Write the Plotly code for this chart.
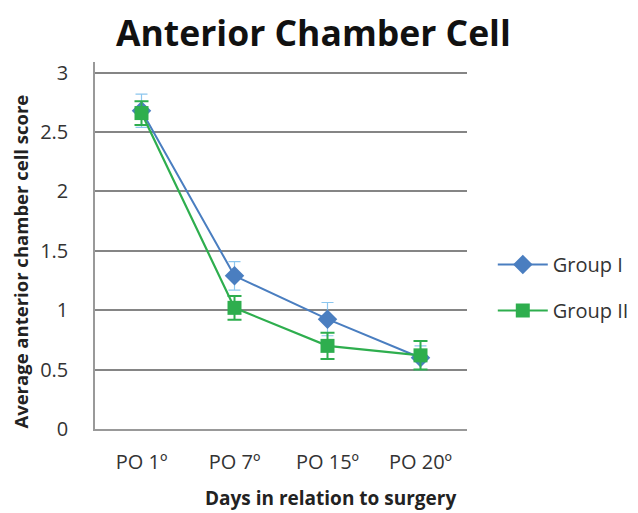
import plotly.graph_objects as go

categories = ["PO 1º", "PO 7º", "PO 15º", "PO 20º"]
group1 = [2.68, 1.29, 0.925, 0.60]
group1_err = [0.14, 0.12, 0.14, 0.10]
group2 = [2.66, 1.02, 0.70, 0.62]
group2_err = [0.10, 0.10, 0.11, 0.12]
y_ticks = [0, 0.5, 1, 1.5, 2, 2.5, 3]
y_tick_labels = ["0", "0.5", "1", "1.5", "2", "2.5", "3"]

FONT = "Open Sans"
BLUE = "#4A7EC0"
GREEN = "#2EAE4E"

# page offset (default body margin) compensation
OFF = 8
W, H = 638, 513
L, T = 95 - OFF, 62 - OFF
R = W - (470 - OFF)
B = H - (429 - OFF)
pw = W - L - R
ph = H - T - B

def px(xpage):
    return (xpage - OFF - L) / pw

def py(ypage):
    return (H - B - (ypage - OFF)) / ph

fig = go.Figure()
fig.add_trace(go.Scatter(
    x=categories, y=group1, name="Group I", mode="lines+markers",
    line=dict(color=BLUE, width=2),
    marker=dict(symbol="diamond", size=15, color=BLUE),
    error_y=dict(type="data", array=group1_err, color="#8CC6EE", thickness=1.2, width=6),
    legendgroup="g1",
))
fig.add_trace(go.Scatter(
    x=categories, y=group2, name="Group II", mode="lines+markers",
    line=dict(color=GREEN, width=2.2),
    marker=dict(symbol="square", size=14, color=GREEN),
    error_y=dict(type="data", array=group2_err, color=GREEN, thickness=2, width=7),
    legendgroup="g2",
))

fig.update_layout(
    width=W, height=H,
    margin=dict(l=L, r=R, t=T, b=B),
    paper_bgcolor="white", plot_bgcolor="white",
    font=dict(family=FONT, color="#333333"),
    showlegend=True,
    legend=dict(x=px(496), y=py(245), xanchor="left", yanchor="top",
                font=dict(size=20, color="#333333", family=FONT),
                itemwidth=50,
                tracegroupgap=17, bgcolor="rgba(0,0,0,0)"),
    xaxis=dict(type="category", range=[-0.5, 3.5], showgrid=False,
               showline=True, linecolor="#999999", linewidth=1.5,
               ticks="", tickfont=dict(size=20, color="#333333"), ticklabelstandoff=14),
    yaxis=dict(range=[0, 3.09], tickvals=y_ticks, ticktext=y_tick_labels,
               showgrid=True, gridcolor="#858585", gridwidth=1.5,
               showline=True, linecolor="#999999", linewidth=1.5,
               zeroline=False, ticks="", tickfont=dict(size=20, color="#333333"),
               ticklabelstandoff=21),
)

fig.add_annotation(text="<b>Anterior Chamber Cell</b>", x=px(315), y=py(31.5), xref="paper", yref="paper",
                   xanchor="center", yanchor="middle",
                   showarrow=False, font=dict(size=35.5, color="#111111", family=FONT))
fig.add_annotation(text="<b>Days in relation to surgery</b>", x=px(332), y=py(498), xref="paper", yref="paper",
                   xanchor="center", yanchor="middle",
                   showarrow=False, font=dict(size=19, color="#222222", family=FONT))
fig.add_annotation(text="<b>Average anterior chamber cell score</b>", x=px(19), y=py(262), xref="paper", yref="paper",
                   xanchor="center", yanchor="middle",
                   showarrow=False, textangle=-90, font=dict(size=18.5, color="#222222", family=FONT))

fig.write_html("out.html", config={"displayModeBar": False})
